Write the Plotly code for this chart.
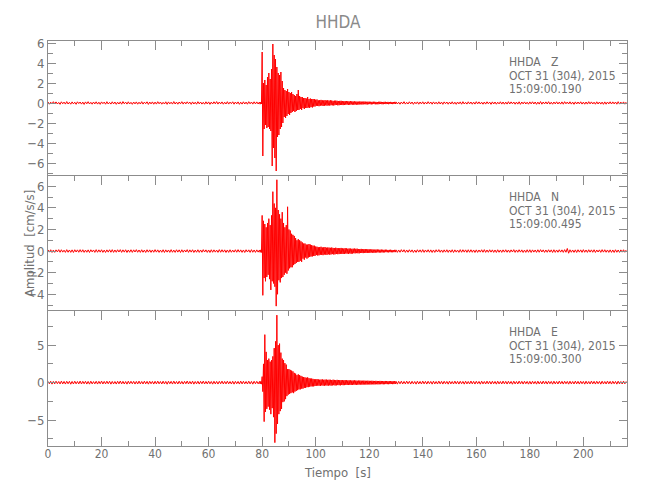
import numpy as np
import plotly.graph_objects as go
from plotly.subplots import make_subplots

# ---- sampling grid: (start [s], step [s], number of samples) ----
sample_segments = [(0.0, 0.5, 158), (79.0, 0.25, 84), (100.0, 0.25, 120), (130.0, 0.5, 173)]


def hundredths(s):
    """Amplitudes written in hundredths of cm/s/s."""
    return [int(v) / 100 for v in s.split()]


# ---- Z component (cm/s/s) ----
z_pre = hundredths("""
10 -12 8 -9 13 -7 11 -10 6 -13 12 -8 9 -11 14 -10 7 -12 11 -9
8 -13 12 -6 10 -11 9 -14 11 -8 13 -10 7 -12 10 -9 12 -11 8 -13
11 -7 9 -12 13 -10 6 -11 12 -9 10 -13 8 -10 11 -12 14 -8 9 -11
12 -10 7 -13 10 -9 11 -12 8 -10 13 -11 9 -7 12 -14 10 -9 11 -12
9 -11 13 -8 10 -12 7 -10 12 -13 11 -9 8 -11 14 -10 9 -12 10 -8
13 -11 10 -9 12 -7 9 -13 11 -10 8 -12 13 -9 10 -11 7 -12 12 -10
11 -13 9 -10 12 -8 14 -11 10 -9 11 -12 8 -10 13 -11 9 -7 12 -12
10 -9 11 -13 8 -11 12 -10 9 -12 13 -8 10 -11 12 -9 11 -10
""")
z_event = [.1, -.12, .09, -.1,
           5.1, -5.3, 2.0, -2.6, 2.3, -2.2, 1.8, -2.5, 2.6, -2.4,
           3.0, -2.6, 2.4, -2.8, 3.4, -6.3, 5.9, -4.5, 4.8, -5.5,
           4.4, -6.8, 3.6, -3.4, 3.0, -3.2, 2.8, -2.6, 3.1, -2.4,
           2.2, -2.0, 1.5, -1.4, 1.3, -1.5, 1.2, -1.3, 1.4, -1.1,
           1.1, -1.2, 1.0, -1.0, 1.1, -.9, .9, -.8, .8, -.9,
           .7, -.8, .9, -.7, 1.3, -.7, .7, -.6, .6, -.7,
           .6, -.5, .5, -.6, .5, -.5, .45, -.5, .6, -.45,
           .4, -.5, .45, -.4, .4, -.45, .4, -.35, .4, -.35]
z_coda = hundredths("""
33 -28 35 -30 26 -32 29 -27 31 -25 27 -30 26 -28 29 -24 25 -27 28 -24
24 -26 27 -22 25 -23 21 -25 23 -21 24 -20 22 -23 19 -22 21 -19 22 -20
19 -21 18 -20 19 -17 20 -16 18 -19 16 -18 19 -15 17 -16 15 -18 16 -15
15 -16 14 -17 13 -15 16 -13 14 -15 13 -14 15 -12 14 -13 12 -15 13 -12
13 -11 12 -14 11 -12 13 -10 12 -13 11 -12 10 -13 12 -11 13 -10 11 -12
10 -12 11 -9 12 -11 9 -10 11 -12 10 -9 11 -10 9 -11 10 -9 11 -10
""")
z_post = hundredths("""
11 -10 8 -12 10 -9 13 -11 7 -10 12 -9 10 -13 9 -8 11 -12 10 -9
12 -11 9 -10 13 -8 10 -12 11 -9 8 -11 12 -10 9 -13 11 -7 10 -12
9 -10 12 -11 8 -13 10 -9 11 -12 13 -10 7 -11 12 -9 10 -12 9 -11
13 -9 11 -10 8 -12 10 -11 12 -8 9 -13 11 -10 10 -12 8 -9 12 -11
10 -12 9 -11 13 -10 11 -8 10 -12 9 -11 12 -13 10 -9 11 -10 8 -12
11 -9 12 -10 10 -13 9 -11 14 -12 10 -9 11 -10 13 -11 8 -12 10 -9
12 -10 9 -11 11 -12 13 -8 10 -10 12 -11 9 -13 11 -10 10 -9 12 -11
9 -12 10 -11 13 -9 11 -10 8 -12 12 -10 10 -11 9 -13 11 -12 10 -9
12 -10 11 -9 10 -12 13 -11 9 -10 11 -12 10
""")

# ---- N component ----
n_pre = hundredths("""
11 -10 12 -13 9 -12 11 -8 13 -11 12 -10 8 -12 13 -11 10 -12 11 -13
12 -9 11 -11 13 -10 12 -12 9 -11 11 -13 12 -8 10 -12 13 -11 11 -10
12 -12 9 -13 11 -10 12 -11 13 -12 10 -11 12 -9 13 -12 11 -10 12 -13
10 -11 12 -12 11 -9 13 -11 10 -12 12 -11 9 -13 12 -10 11 -12 10 -11
13 -10 11 -12 9 -11 12 -13 11 -10 10 -12 13 -11 9 -12 12 -10 11 -13
12 -11 10 -9 13 -12 11 -10 12 -13 9 -11 12 -12 10 -11 13 -9 11 -12
10 -13 12 -11 11 -10 9 -12 13 -11 12 -10 11 -13 10 -12 12 -11 9 -10
12 -11 13 -10 11 -12 10 -13 12 -9 11 -12 13 -11 10 -12 11 -10
""")
n_event = [.1, -.12, .11, -.13,
           3.3, -4.1, 2.8, -2.5, 2.5, -2.8, 2.2, -2.4, 2.6, -2.2,
           3.0, -2.6, 2.4, -3.6, 3.3, -2.8, 5.5, -3.0, 4.4, -3.3,
           4.0, -5.1, 6.6, -4.0, 3.8, -2.7, 3.4, -2.9, 3.0, -2.5,
           3.6, -2.4, 2.6, -2.2, 2.2, -2.0, 2.4, -2.1, 4.1, -1.8,
           2.0, -1.6, 1.9, -1.5, 1.6, -1.5, 1.5, -1.3, 1.4, -1.2,
           1.2, -1.1, 1.0, -1.0, 1.1, -1.0, 1.0, -.9, .9, -1.0,
           .8, -.7, .7, -.8, .7, -.6, .6, -.7, .6, -.6,
           .65, -.55, .6, -.5, .55, -.5, .5, -.45, .5, -.45]
n_coda = hundredths("""
42 -37 40 -41 35 -39 37 -34 40 -36 33 -38 35 -32 37 -34 31 -35 33 -30
32 -34 30 -31 33 -28 29 -32 27 -30 31 -27 28 -29 26 -28 27 -25 29 -26
25 -27 24 -26 27 -23 25 -24 22 -26 24 -22 23 -25 21 -23 22 -20 23 -21
21 -19 22 -20 18 -21 19 -17 20 -18 17 -19 18 -16 19 -17 16 -18 17 -15
16 -17 15 -14 16 -15 14 -16 13 -15 14 -13 15 -12 13 -14 12 -13 14 -12
12 -13 11 -12 13 -10 12 -11 10 -12 11 -10 12 -11 10 -11 9 -10 11 -10
""")
n_post = hundredths("""
11 -12 10 -11 13 -9 12 -12 10 -11 12 -10 11 -13 9 -12 12 -10 11 -11
13 -12 10 -10 12 -11 11 -13 10 -12 12 -9 13 -11 10 -12 11 -10 12 -12
10 -11 12 -13 11 -10 9 -12 13 -11 12 -10 11 -12 12 -11 12 -11 10 -13
11 -12 10 -10 12 -11 13 -12 10 -11 12 -10 11 -12 10 -13 12 -11 10 -12
11 -10 12 -11 10 -12 11 -9 13 -12 10 -11 12 -10 11 -13 9 -12 12 -11
12 -13 11 -10 10 -12 12 -11 13 -9 11 -12 10 -11 12 -10 11 -13 12 -12
10 -11 12 -10 11 -12 13 -11 24 -20 12 -11 10 -12 11 -13 12 -10 11 -12
13 -11 10 -12 12 -10 11 -11 12 -13 10 -9 11 -12 13 -10 12 -11 10 -12
11 -12 10 -13 12 -11 10 -12 11 -10 12 -11 10
""")

# ---- E component ----
e_pre = hundredths("""
17 -15 18 -20 16 -17 19 -14 15 -18 20 -17 16 -19 18 -15 17 -21 16 -18
19 -16 15 -17 21 -18 17 -15 18 -19 16 -20 19 -17 14 -16 18 -19 17 -15
20 -18 16 -17 19 -15 18 -20 16 -17 15 -19 18 -16 21 -17 17 -18 15 -20
19 -16 18 -15 17 -19 16 -18 20 -17 15 -18 19 -16 17 -20 18 -15 16 -19
18 -17 20 -16 15 -18 19 -17 16 -21 18 -15 17 -19 20 -16 15 -18 19 -17
16 -19 17 -15 21 -18 16 -17 19 -20 15 -16 18 -19 17 -15 20 -18 16 -17
19 -16 15 -20 18 -17 16 -19 17 -15 20 -18 16 -17 19 -16 15 -18 18 -20
17 -15 16 -19 20 -17 18 -16 15 -18 19 -17 16 -20 18 -15 17 -16
""")
e_event = [.16, -.18, .17, -.2,
           .8, -1.2, 2.5, -5.2, 6.4, -3.9, 4.1, -3.5, 3.0, -3.2,
           3.2, -3.6, 2.8, -4.2, 3.0, -3.4, 3.5, -4.6, 4.6, -8.0,
           5.5, -6.8, 9.0, -5.5, 5.0, -4.2, 5.2, -3.8, 4.0, -3.5,
           3.2, -2.6, 3.0, -2.5, 2.6, -2.2, 2.4, -1.8, 1.8, -1.6,
           1.8, -1.5, 1.7, -1.4, 1.6, -1.3, 1.5, -1.4, 1.3, -1.2,
           1.2, -1.1, 1.0, -1.0, 1.1, -.9, 1.0, -.9, .9, -.8,
           .8, -.8, .75, -.7, .7, -.7, .65, -.6, .7, -.6,
           .6, -.55, .55, -.5, .55, -.5, .5, -.5, .45, -.45]
e_coda = hundredths("""
45 -42 47 -40 43 -41 39 -44 41 -37 43 -40 38 -42 40 -37 41 -39 37 -40
39 -36 38 -40 35 -37 39 -34 36 -38 34 -36 37 -33 35 -34 33 -36 34 -32
33 -34 31 -33 34 -30 32 -31 29 -32 31 -29 30 -31 28 -30 29 -27 30 -28
28 -29 26 -28 27 -26 28 -25 26 -27 25 -26 27 -24 25 -26 24 -25 26 -23
24 -25 23 -24 25 -22 23 -24 22 -23 24 -21 22 -23 21 -22 23 -21 22 -20
21 -22 20 -21 22 -19 21 -20 19 -21 20 -19 21 -18 19 -20 18 -19 20 -18
""")
e_post = hundredths("""
18 -20 17 -16 19 -18 16 -17 20 -15 17 -19 18 -16 15 -20 19 -17 16 -18
20 -16 17 -19 18 -15 16 -20 19 -17 15 -18 20 -16 17 -19 18 -15 16 -20
19 -17 15 -18 20 -16 17 -19 18 -15 16 -20 19 -17 15 -18 21 -16 17 -19
18 -15 16 -20 19 -17 15 -18 20 -16 17 -19 18 -15 16 -20 19 -17 15 -18
20 -16 17 -19 18 -15 16 -21 19 -17 15 -18 20 -16 17 -19 18 -15 16 -20
17 -19 18 -15 16 -20 19 -17 15 -18 20 -16 17 -19 18 -15 16 -20 19 -17
15 -18 20 -16 17 -19 18 -15 16 -20 19 -17 15 -18 20 -16 17 -19 18 -15
16 -20 19 -17 15 -18 20 -16 17 -19 18 -15 16 -20 19 -17 15 -18 20 -16
17 -19 18 -15 16 -20 19 -17 15 -18 20 -16 17
""")

station = "HHDA"
components = ["Z", "N", "E"]
start_times = ["15:09:00.190", "15:09:00.495", "15:09:00.300"]
date_label = "OCT 31 (304), 2015"
y_ranges = [[-7.3, 6.2], [-5.55, 6.95], [-8.45, 9.55]]
y_dticks = [2, 2, 5]
y_minor = [1, 1, 2.5]
x_range = [0, 216.3]

time_s = np.concatenate([start + step * np.arange(n) for start, step, n in sample_segments])
series = [z_pre + z_event + z_coda + z_post,
          n_pre + n_event + n_coda + n_post,
          e_pre + e_event + e_coda + e_post]

FONT = "Liberation Sans Narrow, DejaVu Sans Condensed, Arial Narrow, sans-serif"
LINE = "#8c8c8c"
TEXT = "#707070"

PLOT_W = 579
PANEL_H = 135

fig = make_subplots(rows=3, cols=1, shared_xaxes=True, vertical_spacing=0)
for i, amp in enumerate(series):
    fig.add_trace(go.Scatter(x=time_s, y=amp, mode="lines",
                             line=dict(color="#ff0000", width=1),
                             hoverinfo="skip"), row=i + 1, col=1)

axis_common = dict(showline=True, linecolor=LINE, linewidth=1,
                   ticks="inside", tickcolor=LINE, tickwidth=1, showgrid=False,
                   zeroline=False)

for i in range(3):
    last = i == 2
    fig.update_xaxes(range=x_range, tick0=0, dtick=20, ticklen=9,
                     minor=dict(dtick=10, ticklen=5, ticks="inside", tickcolor=LINE),
                     side="bottom" if last else "top",
                     mirror="ticks" if last else False,
                     showticklabels=last, ticklabelstandoff=-3,
                     tickfont=dict(family=FONT, size=12, color=TEXT),
                     row=i + 1, col=1, **axis_common)
    fig.update_yaxes(range=y_ranges[i], tick0=0, dtick=y_dticks[i], ticklen=8,
                     minor=dict(dtick=y_minor[i], ticklen=5, ticks="inside", tickcolor=LINE),
                     mirror="ticks", tickfont=dict(family=FONT, size=13, color=TEXT),
                     row=i + 1, col=1, **axis_common)
    yref = "y domain" if i == 0 else f"y{i + 1} domain"
    xref = "x" if i == 0 else f"x{i + 1}"
    lines = [station + "\u00a0\u00a0\u00a0" + components[i], date_label, start_times[i]]
    for k, txt in enumerate(lines):
        fig.add_annotation(x=171.5, xref=xref, y=1 - (21 + 13.5 * k) / PANEL_H, yref=yref,
                           text=txt, showarrow=False, xanchor="left", yanchor="middle",
                           font=dict(family=FONT, size=12, color=TEXT))

fig.add_annotation(text="Tiempo  [s]", xref="paper", yref="paper",
                   x=0.5, y=-26 / (3 * PANEL_H), xanchor="center", yanchor="middle",
                   showarrow=False, font=dict(family=FONT, size=13, color=TEXT))

fig.add_annotation(text="Amplitud  [cm/s/s]", textangle=-90, xref="paper", yref="paper",
                   x=-19 / PLOT_W, y=1 - 203 / (3 * PANEL_H), xanchor="center",
                   yanchor="middle", showarrow=False,
                   font=dict(family=FONT, size=13, color=TEXT))

fig.update_layout(
    width=650, height=500,
    margin=dict(l=40, r=31, t=33, b=62, autoexpand=False),
    paper_bgcolor="white", plot_bgcolor="white",
    showlegend=False,
    title=dict(text=station, x=330 / 650, xanchor="center", y=1 - 14 / 500, yanchor="middle",
               font=dict(family=FONT, size=17, color="#8a8a8a")),
)

fig.write_html("out.html")
